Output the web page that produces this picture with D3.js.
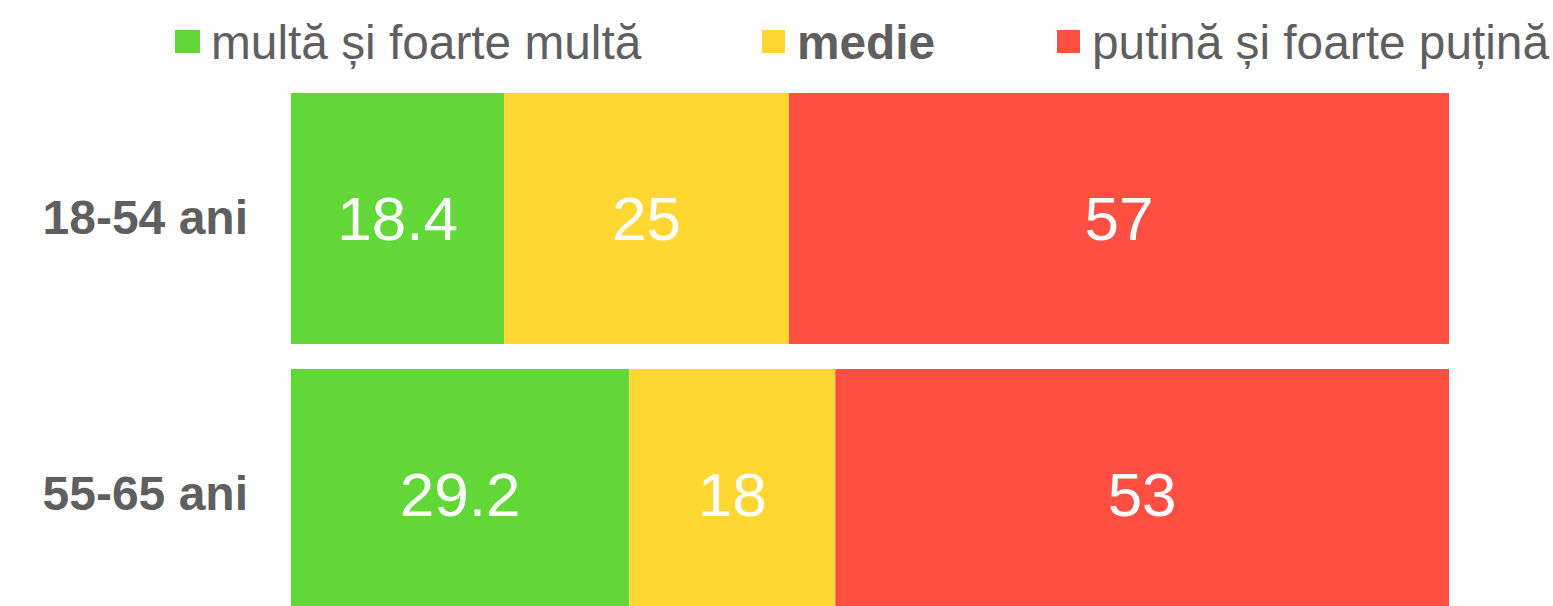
<!DOCTYPE html>
<html>
<head>
<meta charset="utf-8">
<script src="https://cdn.jsdelivr.net/npm/d3@7"></script>
<style>
  html, body { margin: 0; padding: 0; background: #fff; overflow: hidden; }
  svg { display: block; font-family: "Liberation Sans", Arial, Helvetica, sans-serif; }
</style>
</head>
<body>
<svg id="chart"></svg>
<script>
const categories = ["18-54 ani", "55-65 ani"];
const seriesNames = ["multă și foarte multă", "medie", "putină și foarte puțină"];
const seriesColors = ["#62d838", "#ffd733", "#ff4f42"];
const multa = [18.4, 29.2];
const medie = [24.6, 17.8];   // shown rounded: 25, 18
const putina = [57, 53];
const labelFormats = [d3.format(".1f"), d3.format(".0f"), d3.format(".0f")];

const width = 1553;
const height = 606;
const marginLeft = 291;
const marginRight = 104;
const barTop = 93;

const svg = d3.select("#chart").attr("width", width).attr("height", height);

// rows normalised to 100%
const rows = categories.map((c, i) => ({ cat: c, v: [multa[i], medie[i], putina[i]] }));
rows.forEach((r) => {
  const total = d3.sum(r.v);
  let x0 = 0;
  r.segs = r.v.map((v, k) => {
    const s = { k, value: v, x0, x1: x0 + (v / total) * 100 };
    x0 = s.x1;
    return s;
  });
});

const x = d3.scaleLinear().domain([0, 100]).range([marginLeft, width - marginRight]);
const y = d3.scaleBand().domain(categories).range([barTop, barTop + 2 * 276 - 25]).paddingInner(0.0906).paddingOuter(0);

const bars = svg.append("g").selectAll("g").data(rows).join("g");

bars.selectAll("rect")
  .data((d) => d.segs.map((s) => ({ ...s, cat: d.cat })))
  .join("rect")
  .attr("x", (d) => x(d.x0))
  .attr("width", (d) => x(d.x1) - x(d.x0))
  .attr("y", (d) => y(d.cat))
  .attr("height", y.bandwidth())
  .attr("fill", (d) => seriesColors[d.k]);

bars.selectAll("text")
  .data((d) => d.segs.map((s) => ({ ...s, cat: d.cat })))
  .join("text")
  .attr("x", (d) => (x(d.x0) + x(d.x1)) / 2)
  .attr("y", (d) => y(d.cat) + y.bandwidth() / 2)
  .attr("dy", "0.35em")
  .attr("text-anchor", "middle")
  .attr("fill", "#fff")
  .style("font-size", "62px")
  .text((d) => labelFormats[d.k](d.value));

// category labels
const yAxis = svg.append("g")
  .attr("transform", `translate(${marginLeft},0)`)
  .call(d3.axisLeft(y).tickSize(0).tickPadding(43));
yAxis.select(".domain").remove();
yAxis.selectAll("text")
  .attr("fill", "#5f5f5f")
  .style("font-size", "48px")
  .style("font-weight", "bold")
  .style("font-family", "'Liberation Sans', Arial, sans-serif");

// legend
const legendPos = [
  { sx: 175, sw: 25, tx: 211, weight: "normal" },
  { sx: 762, sw: 23, tx: 797, weight: "bold" },
  { sx: 1057, sw: 23, tx: 1092, weight: "normal" },
];
const legend = svg.append("g").selectAll("g").data(seriesNames).join("g");
legend.append("rect")
  .attr("x", (d, i) => legendPos[i].sx)
  .attr("y", 30)
  .attr("width", (d, i) => legendPos[i].sw)
  .attr("height", 23)
  .attr("fill", (d, i) => seriesColors[i]);
legend.append("text")
  .attr("x", (d, i) => legendPos[i].tx)
  .attr("y", 59)
  .attr("fill", "#5f5f5f")
  .style("font-size", "47.8px")
  .style("font-weight", (d, i) => legendPos[i].weight)
  .text((d) => d);
</script>
</body>
</html>
